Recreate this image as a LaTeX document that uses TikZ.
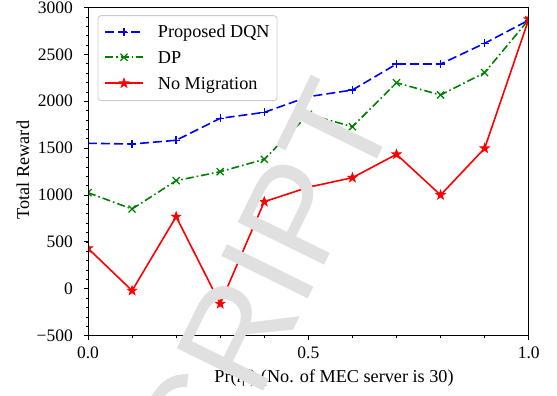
\documentclass[tikz,border=0pt]{standalone}
\usepackage{fontspec}
\setmainfont{Liberation Serif}
\newfontfamily\wmfont{Liberation Sans}
\usetikzlibrary{positioning, arrows.meta, plotmarks}

% filled five pointed star for the plot marks
\pgfdeclareplotmark{fstar}{%
  \pgfpathmoveto{\pgfpointpolar{90}{\pgfplotmarksize}}%
  \pgfpathlineto{\pgfpointpolar{126}{0.4\pgfplotmarksize}}%
  \pgfpathlineto{\pgfpointpolar{162}{\pgfplotmarksize}}%
  \pgfpathlineto{\pgfpointpolar{198}{0.4\pgfplotmarksize}}%
  \pgfpathlineto{\pgfpointpolar{234}{\pgfplotmarksize}}%
  \pgfpathlineto{\pgfpointpolar{270}{0.4\pgfplotmarksize}}%
  \pgfpathlineto{\pgfpointpolar{306}{\pgfplotmarksize}}%
  \pgfpathlineto{\pgfpointpolar{342}{0.4\pgfplotmarksize}}%
  \pgfpathlineto{\pgfpointpolar{18}{\pgfplotmarksize}}%
  \pgfpathlineto{\pgfpointpolar{54}{0.4\pgfplotmarksize}}%
  \pgfpathclose
  \pgfusepathqfillstroke}

\begin{document}
\begin{tikzpicture}[
            x=1pt, y=1pt,
            data/.style={shift={(88pt,107.2pt)}, x=440.7pt, y=0.09377pt},
            ticklab/.style={font=\fontsize{17.5}{20}\selectfont, inner sep=0pt},
            leglab/.style={font=\fontsize{18.2}{21}\selectfont, anchor=base west, inner sep=0pt},
            dqn/.style={blue, line width=1.6pt, dash pattern=on 9pt off 4pt, mark=+, mark size=4pt, mark options={solid, line width=1.3pt}},
            dp/.style={green!50!black, line width=1.6pt, dash pattern=on 8pt off 3pt on 1.6pt off 3pt, mark=x, mark size=5pt, mark options={solid, line width=1.3pt}},
            nomig/.style={red, line width=1.6pt, mark=fstar, mark size=4.8pt, mark options={solid, fill=red, line width=0.8pt}}
        ]
        \useasboundingbox (0,0) rectangle (557,396);

        % Draw the curves inside the axes
        \begin{scope}[data]
            \clip (0,-500) rectangle (1,3000);
            \draw[dqn] plot coordinates {(0,1552) (0.1,1544) (0.2,1584) (0.3,1818) (0.4,1882) (0.5,2049) (0.6,2120) (0.7,2397) (0.8,2397) (0.9,2618) (1,2865)};
            \draw[dp] plot coordinates {(0,1025) (0.1,851) (0.2,1153) (0.3,1249) (0.4,1381) (0.5,1860) (0.6,1729) (0.7,2198) (0.8,2067) (0.9,2305) (1,2870)};
            \draw[nomig] plot coordinates {(0,432) (0.1,-20) (0.2,769) (0.3,-160) (0.4,929) (0.5,1083) (0.6,1185) (0.7,1434) (0.8,1000) (0.9,1498) (1,2874)};
        \end{scope}

        % Draw the axes with their ticks
        \draw[line width=0.9pt] (88,60.3) rectangle (528.7,388.5);
        \begin{scope}[data]
            \foreach \t in {0,0.1,...,1.05}
                \draw[line width=0.7pt] (\t,-500) -- ++(0,-2.5pt);
            \foreach \v in {-400,-300,...,2900}
                \draw[line width=0.7pt] (0,\v) -- ++(-2.5pt,0);
            \foreach \t/\lab [count=\i] in {0/0.0, 0.5/0.5, 1/1.0} {
                \draw[line width=0.9pt] (\t,-500) -- ++(0,-4.5pt);
                \node[ticklab, anchor=north] (xt\i) at ([yshift=-11pt]\t,-500) {\lab};
            }
            \foreach \v/\lab [count=\i] in {-500/−500, 0/0, 500/500, 1000/1000, 1500/1500, 2000/2000, 2500/2500, 3000/3000} {
                \draw[line width=0.9pt] (0,\v) -- ++(-4.5pt,0);
                \node[ticklab, anchor=east] (yt\i) at ([xshift=-15pt]0,\v) {\lab};
            }
        \end{scope}

        % Axis labels
        \node[rotate=90, font=\fontsize{18.2}{21}\selectfont, inner sep=0pt] (ylabel) at (23,226) {Total Reward};
        \node[anchor=base, font=\fontsize{18.2}{21}\selectfont, inner sep=0pt] (xlabel) at (334,13) {Pr(\textit{l}|\textit{l}) (No. of MEC server is 30)};

        % Legend
        \draw[black!20, line width=0.9pt, rounded corners=3pt, fill=white] (98,295.3) rectangle (277,380.3);
        \draw[dqn, mark indices={2}] plot coordinates {(105,363.7) (124,363.7) (143,363.7)};
        \draw[dp, mark indices={2}] plot coordinates {(105,338.7) (124,338.7) (143,338.7)};
        \draw[nomig, mark indices={2}] plot coordinates {(105,312.7) (124,312.7) (143,312.7)};
        \node[leglab] (legdqn) at (157.7,358.3) {Proposed DQN};
        \node[leglab] (legdp) at (157.7,332.7) {DP};
        \node[leglab] (legnomig) at (157.7,306.7) {No Migration};

        % Watermark over everything
        \node[rotate=63.8, anchor=base east, text=black!12, font=\wmfont\fontsize{140}{140}\selectfont, inner sep=0pt] (wmark) at (399,281) {SCRIPT};
    \end{tikzpicture}
\end{document}
